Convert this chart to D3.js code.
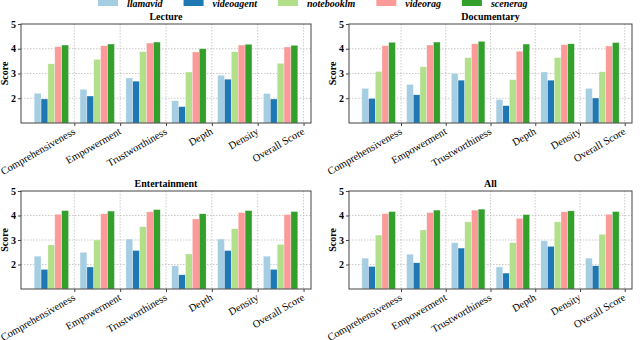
<!DOCTYPE html>
<html>
<head>
<meta charset="utf-8">
<script src="https://cdn.jsdelivr.net/npm/d3@7"></script>
<style>
  body { margin: 0; background: #fff; }
  svg { display: block; }
  svg text { font-family: "Liberation Serif", "Times New Roman", Times, "DejaVu Serif", serif !important; }
</style>
</head>
<body>
<div id="chart"></div>
<script>
// data
const categories = ['Comprehensiveness', 'Empowerment', 'Trustworthiness', 'Depth', 'Density', 'Overall Score'];
const models = ['llamavid', 'videoagent', 'notebooklm', 'videorag', 'scenerag'];
const colors = ['#a6cee3', '#1f78b4', '#b2df8a', '#fb9a99', '#33a02c'];
const yTicks = [2, 3, 4, 5];

// one row per model, one value per category
const lecture = [
    [2.20, 2.36, 2.82, 1.90, 2.93, 2.19],
    [1.97, 2.09, 2.69, 1.66, 2.77, 1.97],
    [3.39, 3.57, 3.88, 3.06, 3.88, 3.41],
    [4.08, 4.12, 4.23, 3.87, 4.15, 4.07],
    [4.15, 4.19, 4.27, 4.00, 4.18, 4.14]
];
const documentary = [
    [2.40, 2.56, 3.01, 1.95, 3.06, 2.40],
    [1.99, 2.14, 2.73, 1.70, 2.73, 2.01],
    [3.08, 3.27, 3.64, 2.75, 3.64, 3.07],
    [4.12, 4.15, 4.20, 3.90, 4.16, 4.11],
    [4.26, 4.27, 4.30, 4.19, 4.20, 4.25]
];
const entertainment = [
    [2.34, 2.50, 3.04, 1.95, 3.04, 2.34],
    [1.80, 1.90, 2.57, 1.58, 2.57, 1.80],
    [2.80, 3.00, 3.54, 2.43, 3.46, 2.82],
    [4.05, 4.07, 4.15, 3.86, 4.12, 4.04],
    [4.20, 4.18, 4.24, 4.07, 4.20, 4.16]
];
const allData = [
    [2.26, 2.42, 2.89, 1.90, 2.97, 2.26],
    [1.92, 2.07, 2.67, 1.65, 2.74, 1.95],
    [3.20, 3.41, 3.74, 2.89, 3.74, 3.23],
    [4.08, 4.12, 4.22, 3.88, 4.15, 4.05],
    [4.16, 4.22, 4.26, 4.04, 4.19, 4.16]
];

const panels = [
    { title: 'Lecture', values: lecture, x0: 21, x1: 311, y0: 24, y1: 123 },
    { title: 'Documentary', values: documentary, x0: 349, x1: 632, y0: 24, y1: 123 },
    { title: 'Entertainment', values: entertainment, x0: 21, x1: 311, y0: 191, y1: 289 },
    { title: 'All', values: allData, x0: 349, x1: 632, y0: 191, y1: 289 }
];

const W = 640, H = 340;
const barW = 0.15;
const svg = d3.select('#chart').append('svg').attr('width', W).attr('height', H);

panels.forEach(p => drawPanel(p));
drawLegend();

function drawPanel(p) {
    let g = svg.append('g');
    let x = d3.scaleLinear().domain([-0.6625, categories.length - 1 + 0.6625]).range([p.x0, p.x1]);
    let y = d3.scaleLinear().domain([1, 5]).range([p.y1, p.y0]);
    let tickPos = categories.map((c, i) => i + 0.5);

    // grid
    g.selectAll('.hgrid').data(yTicks.slice(0, 3)).enter().append('line')
    .attr('x1', p.x0).attr('x2', p.x1)
    .attr('y1', d => y(d)).attr('y2', d => y(d))
    .attr('stroke', '#bbb').attr('stroke-width', 0.8).attr('stroke-dasharray', '1.5,1.5');

    g.selectAll('.vgrid').data(tickPos).enter().append('line')
    .attr('x1', d => x(d)).attr('x2', d => x(d))
    .attr('y1', p.y0).attr('y2', p.y1)
    .attr('stroke', '#bbb').attr('stroke-width', 0.8).attr('stroke-dasharray', '1.5,1.5');

    // bars
    p.values.forEach((series, j) => {
        g.selectAll('.bar' + j).data(series).enter().append('rect')
        .attr('x', (d, i) => x(i + (j - 2) * barW - barW / 2))
        .attr('width', x(barW) - x(0))
        .attr('y', d => y(d))
        .attr('height', d => y(1) - y(d))
        .attr('fill', colors[j])
        .attr('stroke', '#fff').attr('stroke-width', 0.5).attr('stroke-opacity', 0.6);
    });

    // frame
    g.append('rect')
    .attr('x', p.x0).attr('y', p.y0)
    .attr('width', p.x1 - p.x0).attr('height', p.y1 - p.y0)
    .attr('fill', 'none').attr('stroke', '#444').attr('stroke-width', 1);

    // y axis
    let yAxis = d3.axisLeft(y).tickValues(yTicks).tickSize(3).tickPadding(2).tickFormat(d3.format('d'));
    let ya = g.append('g').attr('transform', `translate(${p.x0},0)`).call(yAxis);
    ya.attr('font-family', null);
    ya.select('.domain').remove();
    ya.selectAll('line').attr('stroke', '#444');
    ya.selectAll('text')
    .attr('font-size', '10px').attr('font-weight', 'bold').attr('fill', '#000');

    // x axis
    let xAxis = d3.axisBottom(x).tickValues(tickPos).tickSize(3).tickFormat('');
    let xa = g.append('g').attr('transform', `translate(0,${p.y1})`).call(xAxis);
    xa.select('.domain').remove();
    xa.selectAll('line').attr('stroke', '#444');

    g.selectAll('.xlab').data(categories).enter().append('text')
    .attr('transform', (d, i) => `translate(${x(tickPos[i]) - 2},${p.y1 + 4}) rotate(-30)`)
    .attr('text-anchor', 'end')
    .attr('dy', '0.7em')
    .attr('font-size', '10.5px')
    .attr('fill', '#000')
    .text(d => d);

    // y label
    g.append('text')
    .attr('transform', `translate(${p.x0 - 13},${(p.y0 + p.y1) / 2}) rotate(-90)`)
    .attr('text-anchor', 'middle')
    .attr('font-size', '10px').attr('font-weight', 'bold')
    .text('Score');

    // title
    g.append('text')
    .attr('x', (p.x0 + p.x1) / 2).attr('y', p.y0 - 4)
    .attr('text-anchor', 'middle')
    .attr('font-size', '10px').attr('font-weight', 'bold')
    .text(p.title);
}

function drawLegend() {
    let lg = svg.append('g');
    let cx = 98;
    models.forEach((m, j) => {
        lg.append('rect')
        .attr('x', cx).attr('y', -1)
        .attr('width', 20).attr('height', 7)
        .attr('fill', colors[j]);
        let t = lg.append('text')
        .attr('x', cx + 29).attr('y', 7)
        .attr('font-size', '10px').attr('font-weight', 'bold').attr('font-style', 'italic')
        .text(m);
        cx = cx + 29 + t.node().getComputedTextLength() + 21;
    });
}
</script>
</body>
</html>
